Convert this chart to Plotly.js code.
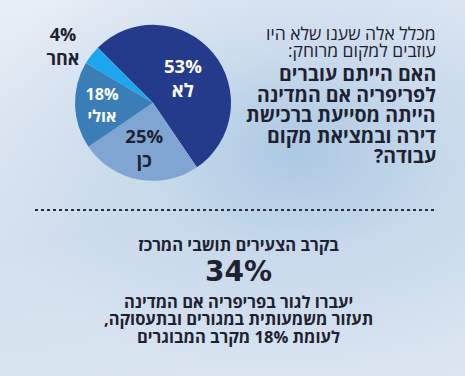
<!DOCTYPE html>
<html>
<head>
<meta charset="utf-8">
<script src="https://cdn.plot.ly/plotly-3.0.1.min.js"></script>
<style>
html, body { margin:0; padding:0; }
body {
  width:465px; height:376px; overflow:hidden;
  background:
    radial-gradient(ellipse 70% 60% at 64% 40%, rgba(168,197,226,0.9) 0%, rgba(188,210,232,0.55) 45%, rgba(225,233,243,0) 100%),
    linear-gradient(170deg, #e8eef6 0%, #d3e0ed 55%, #dbe6f1 100%);
}
#chart { width:465px; height:376px; }
</style>
</head>
<body>
<div id="chart"></div>
<script>
// ---- data ----
const sliceLabels = ['לא', 'כן', 'אולי', 'אחר'];
const sliceValues = [53, 25, 18, 4];
const sliceColors = ['#243b8c', '#7fa6d3', '#3b7db6', '#1ca6ee'];
const sliceTextColors = ['#ffffff', '#1e2230', '#ffffff', '#1e2230'];
const slicePositions = ['inside', 'inside', 'inside', 'outside'];

const introLines = ['מכלל אלה שענו שלא היו', 'עוזבים למקום מרוחק:'];
const questionLines = ['האם הייתם עוברים', 'לפריפריה אם המדינה', 'הייתה מסייעת ברכישת', 'דירה ובמציאת מקום', 'עבודה?'];
const bottomHeader = 'בקרב הצעירים תושבי המרכז';
const bottomValue = 34;
const bottomLines = ['יעברו לגור בפריפריה אם המדינה', 'תעזור משמעותית במגורים ובתעסוקה,', 'לעומת 18% מקרב המבוגרים'];

const RLM = '\u200F';
const fontFam = 'Open Sans, DejaVu Sans, Liberation Sans, sans-serif';
const rtl = s => RLM + s + RLM;
const W = 465, H = 376;
const ink = '#1e2230';

const trace = {
  type: 'pie',
  labels: sliceLabels,
  values: sliceValues,
  sort: false,
  direction: 'clockwise',
  rotation: -45,
  marker: { colors: sliceColors, line: { width: 0 } },
  texttemplate: '<b>%{value}%</b><br><b>%{label}</b>',
  textposition: slicePositions,
  insidetextorientation: 'horizontal',
  insidetextfont: { color: sliceTextColors, size: 18.5, family: fontFam },
  outsidetextfont: { color: sliceTextColors, size: 18, family: fontFam },
  hoverinfo: 'none',
  showlegend: false,
  domain: { x: [0.161, 0.497], y: [0.519, 0.934] }
};

const annotations = [];
function addLine(text, px, py, anchor, size, family, bold) {
  annotations.push({
    text: bold ? '<b>' + text + '</b>' : text,
    x: px / W, y: 1 - py / H, xref: 'paper', yref: 'paper',
    xanchor: anchor, yanchor: 'middle', showarrow: false,
    font: { family: family, size: size, color: ink }
  });
}
const introY = [33, 50];
introLines.forEach((t, i) => addLine(rtl(t), 438, introY[i], 'right', 17.5, fontFam, false));
const questionY = [73, 94, 114.5, 135, 155.5];
questionLines.forEach((t, i) => addLine(rtl(t), 438, questionY[i], 'right', 19.5, fontFam, true));
addLine(rtl(bottomHeader), 238, 245, 'center', 16.5, fontFam, true);
addLine(bottomValue + '%', 238, 271, 'center', 28, 'DejaVu Sans, ' + fontFam, true);
const bottomY = [301, 318.5, 336];
bottomLines.forEach((t, i) => addLine(rtl(t), 238, bottomY[i], 'center', 16.5, fontFam, true));

const layout = {
  width: W, height: H,
  margin: { l: 0, r: 0, t: 0, b: 0 },
  paper_bgcolor: 'rgba(0,0,0,0)',
  plot_bgcolor: 'rgba(0,0,0,0)',
  font: { family: fontFam },
  annotations: annotations,
  shapes: [{
    type: 'line', xref: 'paper', yref: 'paper',
    x0: 35 / W, x1: 437 / W, y0: 1 - 210 / H, y1: 1 - 210 / H,
    line: { color: '#2a2d38', width: 2, dash: 'dot' }
  }]
};

Plotly.newPlot('chart', [trace], layout, { displayModeBar: false, staticPlot: true });
</script>
</body>
</html>
